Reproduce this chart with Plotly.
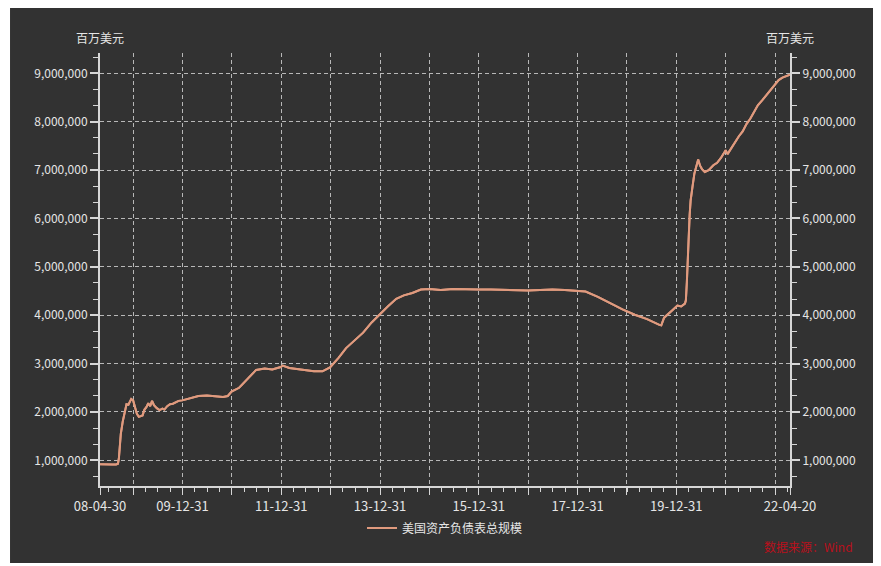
import plotly.graph_objects as go

# ---- data (millions of USD) ----
dates = [
    "2008-04-30", "2008-05-28", "2008-06-25", "2008-07-30", "2008-08-27", "2008-09-10",
    "2008-09-17", "2008-09-24", "2008-10-01", "2008-10-15", "2008-10-29", "2008-11-12",
    "2008-11-26", "2008-12-10", "2008-12-17", "2008-12-31", "2009-01-14", "2009-01-28",
    "2009-02-11", "2009-02-25", "2009-03-11", "2009-03-25", "2009-04-08", "2009-04-22",
    "2009-05-06", "2009-05-20", "2009-06-03", "2009-06-24", "2009-07-15", "2009-08-05",
    "2009-08-19", "2009-09-09", "2009-09-30", "2009-10-21", "2009-11-11", "2009-12-02",
    "2009-12-30", "2010-02-24", "2010-04-28", "2010-06-30", "2010-08-25", "2010-10-27",
    "2010-12-01", "2010-12-29", "2011-02-23", "2011-04-27", "2011-06-29", "2011-08-31",
    "2011-10-26", "2011-12-28", "2012-01-11", "2012-02-29", "2012-05-30", "2012-08-29",
    "2012-10-31", "2012-12-26", "2013-02-27", "2013-04-24", "2013-06-26", "2013-08-28",
    "2013-10-30", "2013-12-25", "2014-02-26", "2014-04-30", "2014-06-25", "2014-08-27",
    "2014-10-29", "2014-12-31", "2015-03-25", "2015-06-24", "2015-09-30", "2015-12-30",
    "2016-03-30", "2016-06-29", "2016-09-28", "2016-12-28", "2017-03-29", "2017-06-28",
    "2017-09-27", "2017-12-27", "2018-02-28", "2018-05-30", "2018-08-29", "2018-11-28",
    "2019-02-27", "2019-05-29", "2019-08-28", "2019-09-11", "2019-10-02", "2019-11-06",
    "2019-12-04", "2020-01-08", "2020-02-05", "2020-03-04", "2020-03-11", "2020-03-18",
    "2020-03-25", "2020-04-01", "2020-04-08", "2020-04-15", "2020-04-22", "2020-04-29",
    "2020-05-13", "2020-05-27", "2020-06-10", "2020-06-24", "2020-07-08", "2020-07-29",
    "2020-08-26", "2020-09-30", "2020-10-28", "2020-11-25", "2020-12-30", "2021-01-13",
    "2021-02-10", "2021-03-10", "2021-04-07", "2021-05-05", "2021-06-02", "2021-06-30",
    "2021-07-28", "2021-08-25", "2021-09-29", "2021-10-27", "2021-11-24", "2021-12-29",
    "2022-01-26", "2022-02-23", "2022-03-23", "2022-04-20",
]
balance = [
    920000, 915000, 910000, 915000, 915000, 930000,
    1050000, 1450000, 1550000, 1800000, 1970000, 2160000,
    2150000, 2250000, 2270000, 2240000, 2100000, 1960000,
    1900000, 1910000, 1930000, 2050000, 2100000, 2180000,
    2120000, 2230000, 2140000, 2080000, 2040000, 2070000,
    2050000, 2120000, 2160000, 2170000, 2200000, 2230000,
    2240000, 2280000, 2330000, 2340000, 2330000, 2310000,
    2330000, 2420000, 2500000, 2680000, 2870000, 2900000,
    2880000, 2930000, 2960000, 2910000, 2880000, 2840000,
    2840000, 2920000, 3120000, 3320000, 3480000, 3640000,
    3850000, 4010000, 4180000, 4340000, 4410000, 4460000,
    4530000, 4540000, 4520000, 4540000, 4530000, 4530000,
    4530000, 4520000, 4520000, 4510000, 4520000, 4530000,
    4520000, 4510000, 4490000, 4380000, 4250000, 4120000,
    4010000, 3920000, 3800000, 3790000, 3950000, 4050000,
    4110000, 4200000, 4180000, 4240000, 4310000, 4670000,
    5250000, 5810000, 6080000, 6370000, 6570000, 6660000,
    6930000, 7100000, 7220000, 7090000, 7020000, 6960000,
    7000000, 7100000, 7150000, 7250000, 7410000, 7330000,
    7450000, 7590000, 7700000, 7800000, 7950000, 8060000,
    8200000, 8340000, 8450000, 8550000, 8660000, 8760000,
    8860000, 8910000, 8940000, 8970000,
]
series_name = "美国资产负债表总规模"
unit_label = "百万美元"
source_text = "数据来源：Wind"

x_start, x_end = "2008-04-30", "2022-04-20"
grid_dates = [x_start] + [f"{y}-12-31" for y in range(2008, 2022)] + [x_end]
grid_text = ["08-04-30"] + [
    (f"{str(y)[2:]}-12-31" if (y % 2 == 1 and y <= 2019) else "") for y in range(2008, 2022)
] + ["22-04-20"]
y_ticks = [1000000, 2000000, 3000000, 4000000, 5000000, 6000000, 7000000, 8000000, 9000000]
y_range = [470000, 9420000]

# ---- styling ----
BG = "#323232"
TXT = "#e6e6e6"
AX = "#d6d6d6"
GRID = "#b8b8b8"
LINE = "#e09a7e"
FONT = "Noto Sans CJK SC"
DASH = "4px,3px"

fig = go.Figure()
fig.add_trace(go.Scatter(x=dates, y=balance, mode="lines", name=series_name,
                         line=dict(color=LINE, width=2), yaxis="y"))
fig.add_trace(go.Scatter(x=dates, y=balance, mode="lines", name=series_name,
                         line=dict(color=LINE, width=2), yaxis="y2",
                         showlegend=False, hoverinfo="skip"))

yax = dict(
    range=y_range, tickvals=y_ticks, tickformat=",", showgrid=True,
    gridcolor=GRID, griddash=DASH, gridwidth=1, zeroline=False,
    showline=True, linecolor=AX, linewidth=2, ticks="outside", ticklen=8,
    tickcolor=AX, tickwidth=2, tickfont=dict(color=TXT, size=12, family=FONT),
    minor=dict(dtick=1000000 / 3, tick0=0, ticks="outside", ticklen=5,
               tickcolor=AX, tickwidth=1, showgrid=False),
)

fig.update_layout(
    width=873, height=558, autosize=False,
    paper_bgcolor="white", plot_bgcolor=BG,
    margin=dict(l=92, r=91, t=45, b=80),
    font=dict(family=FONT, color=TXT, size=12),
    xaxis=dict(
        type="date", range=[x_start, x_end], tickvals=grid_dates, ticktext=grid_text,
        showgrid=True, gridcolor=GRID, griddash=DASH, gridwidth=1,
        showline=True, linecolor=AX, linewidth=2, ticks="outside", ticklen=7,
        tickcolor=AX, tickwidth=1, tickangle=0,
        tickfont=dict(color=TXT, size=13, family=FONT),
        minor=dict(dtick="M3", tick0="2009-01-01", ticks="outside", ticklen=4,
                   tickcolor=AX, tickwidth=1, showgrid=False),
    ),
    yaxis=yax,
    yaxis2=dict(yax, overlaying="y", side="right", showgrid=False),
    legend=dict(orientation="h", x=0.5, xanchor="center", y=-0.097, yanchor="middle",
                font=dict(color=TXT, size=12, family=FONT), bgcolor="rgba(0,0,0,0)"),
    showlegend=True,
    shapes=[dict(type="rect", xref="paper", yref="paper", x0=-0.1304, x1=1.1275,
                 y0=-0.1778, y1=1.1039, fillcolor=BG, line=dict(width=0), layer="below")],
    annotations=[
        dict(text=unit_label, xref="paper", yref="paper", x=0, y=1.035, xanchor="center",
             yanchor="middle", showarrow=False, font=dict(color=TXT, size=12, family=FONT)),
        dict(text=unit_label, xref="paper", yref="paper", x=1, y=1.035, xanchor="center",
             yanchor="middle", showarrow=False, font=dict(color=TXT, size=12, family=FONT)),
        dict(text=source_text, xref="paper", yref="paper", x=1.094, y=-0.139, xanchor="right",
             yanchor="middle", showarrow=False, font=dict(color="#b8101c", size=12, family=FONT)),
    ],
)

fig.write_html("out.html")
